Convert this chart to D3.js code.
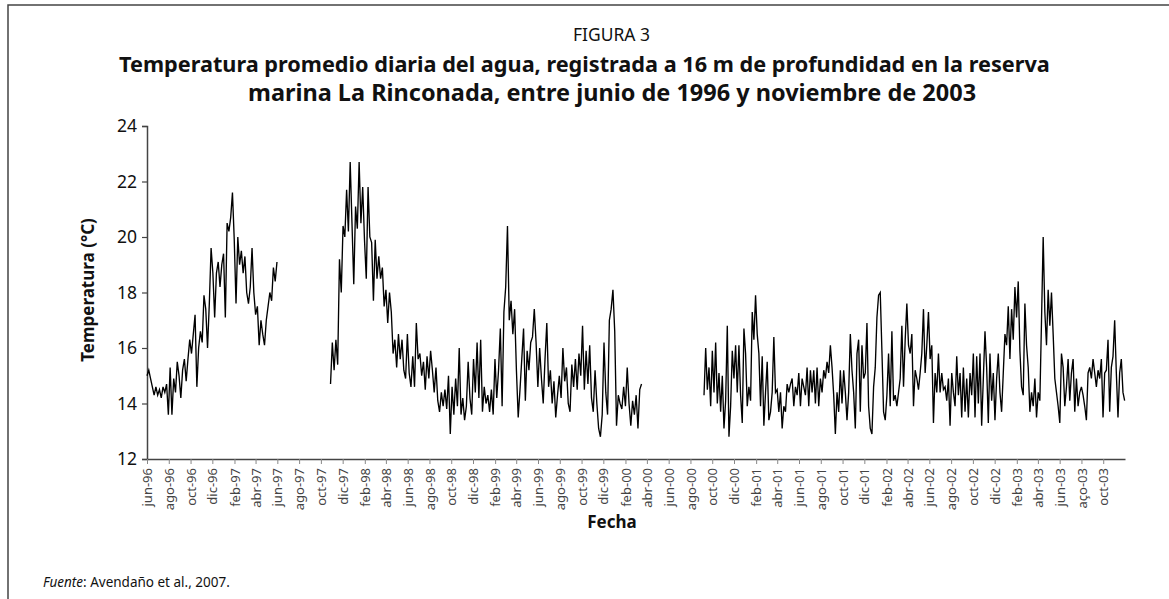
<!DOCTYPE html>
<html><head><meta charset="utf-8">
<script src="https://cdn.jsdelivr.net/npm/d3@7"></script>
<style>body{margin:0;background:#fff}svg{display:block}</style>
</head><body>
<svg id="c" width="1169" height="599"></svg>
<script>
// ---- data ----
const yTicks = [12, 14, 16, 18, 20, 22, 24];
const tickLabels = ["jun-96","ago-96","oct-96","dic-96","feb-97","abr-97","jun-97","ago-97","oct-97","dic-97",
 "feb-98","abr-98","jun-98","ago-98","oct-98","dic-98","feb-99","abr-99","jun-99","ago-99","oct-99","dic-99",
 "feb-00","abr-00","jun-00","ago-00","oct-00","dic-00","feb-01","abr-01","jun-01","ago-01","oct-01","dic-01",
 "feb-02","abr-02","jun-02","ago-02","oct-02","dic-02","feb-03","abr-03","jun-03","aço-03","oct-03"];

// segment periods (start, end)
const segPeriods = [["1996-06-01","1997-05-31"],["1997-10-28","2000-03-17"],["2000-09-08","2003-11-30"]];

const seg1 = [15.0,15.2,14.9,14.6,14.3,14.6,14.3,14.5,14.2,14.6,14.4,14.7,13.6,15.3,13.6,14.9,14.4,15.5,15.0,14.2,
 15.2,15.6,14.8,15.6,16.3,15.8,16.5,17.2,14.6,16.0,16.6,16.2,17.9,17.4,16.0,17.6,19.6,18.7,17.1,18.7,
 19.1,18.2,19.0,19.4,17.1,20.5,20.2,20.7,21.6,19.9,17.6,20.0,19.0,19.5,18.7,19.3,18.0,17.6,18.2,19.6,
 18.0,17.2,17.5,16.1,17.0,16.5,16.1,17.0,17.5,18.0,17.7,18.9,18.4,19.1];

const seg2 = [14.7,16.2,15.2,16.3,15.4,19.2,18.0,20.4,20.0,21.7,20.2,22.7,20.5,18.3,21.1,20.3,22.7,20.5,21.8,19.9,
 18.5,21.8,20.0,19.8,17.7,19.9,18.5,19.3,18.5,18.9,17.5,18.1,16.9,18.0,17.3,15.8,16.3,15.3,16.5,15.6,
 16.3,15.2,14.9,16.5,15.1,14.6,15.7,14.6,16.9,15.6,15.8,15.0,15.5,14.5,15.7,14.9,15.9,15.2,14.4,15.3,14.1,
 13.7,14.4,13.9,14.5,13.8,15.0,12.9,14.6,13.6,14.9,13.9,16.0,13.6,14.2,13.4,13.9,15.5,14.2,13.6,15.6,
 14.4,16.2,14.2,16.3,13.7,14.6,14.0,14.3,13.7,14.5,13.6,15.6,14.2,15.2,16.7,13.9,17.3,18.2,20.4,17.0,
 17.7,16.5,17.4,15.2,13.5,14.5,15.6,16.7,14.1,15.9,15.2,16.2,16.4,17.4,16.2,14.6,16.0,14.9,14.0,15.6,
 16.9,14.6,15.2,14.0,14.8,13.5,14.3,15.0,14.2,16.0,14.8,15.3,14.0,13.7,15.4,14.6,15.6,14.5,15.8,15.0,
 16.8,14.5,15.9,14.7,16.1,14.2,13.7,15.2,14.0,13.1,12.8,13.6,16.2,14.4,13.6,17.0,17.4,18.1,16.6,13.2,
 14.3,14.0,13.8,14.6,13.9,15.3,14.0,13.2,14.1,13.6,14.3,13.1,14.5,14.7];

const seg3 = [14.3,16.0,14.5,15.3,13.9,15.9,14.4,16.2,14.0,15.1,13.7,15.0,13.1,14.1,16.8,12.8,13.9,15.9,14.9,16.1,
 14.4,16.1,14.3,13.3,16.7,15.8,13.9,14.6,14.1,17.3,16.3,17.9,16.5,15.8,13.9,15.7,13.2,14.4,15.5,13.4,
 13.7,14.4,16.4,14.4,14.5,13.7,14.4,13.1,13.9,13.7,14.7,14.4,14.7,14.9,13.9,14.6,14.3,15.1,13.9,14.9,
 14.6,14.3,15.3,13.9,15.2,14.4,15.2,14.0,15.3,13.9,14.9,14.4,15.2,14.9,15.5,15.1,16.1,15.3,14.3,12.9,
 14.4,13.7,15.2,14.0,15.2,14.4,13.4,14.4,16.5,15.2,14.4,13.1,15.8,16.3,13.7,16.1,14.9,15.1,16.9,13.9,
 13.1,12.9,14.6,15.3,17.1,17.9,18.0,15.9,13.7,13.4,14.3,15.8,13.9,16.6,14.1,14.3,13.9,14.4,14.9,16.8,
 14.6,16.3,17.6,16.1,15.8,16.5,13.9,15.2,14.9,14.5,15.1,15.8,17.4,15.1,16.1,17.3,15.6,16.1,13.3,15.1,
 14.4,15.8,14.4,15.1,14.5,14.6,14.1,14.9,13.2,15.1,14.4,13.9,15.7,14.3,15.1,13.5,15.3,13.7,14.9,13.5,
 15.1,14.3,15.8,13.5,15.7,14.0,15.8,13.2,14.9,16.6,15.3,13.3,15.8,14.1,15.1,13.4,14.9,15.8,14.4,13.7,
 15.1,16.5,16.1,17.5,15.6,17.4,16.3,18.2,17.1,18.4,15.9,14.6,14.3,17.6,16.1,15.3,13.7,14.4,13.9,14.9,
 13.5,14.4,14.1,17.0,20.0,17.3,16.1,18.1,16.8,18.0,16.5,14.9,14.4,13.9,13.3,15.8,15.3,13.9,14.6,15.6,
 14.1,15.1,15.6,13.7,14.9,13.9,14.4,14.6,14.3,13.9,13.4,15.1,15.3,14.9,15.6,15.1,14.6,15.2,14.9,15.6,
 13.5,15.1,15.2,16.3,13.7,15.3,15.7,17.0,15.1,13.5,15.1,15.6,14.4,14.1];

const segments = [seg1, seg2, seg3];

// ---- layout ----
const svg = d3.select("#c");
const font = "'Noto Sans', 'Open Sans', sans-serif";
const x = d3.scaleUtc().domain([new Date(Date.UTC(1996,5,1)), new Date(Date.UTC(2003,11,1))]).range([147, 1125]);
const y = d3.scaleLinear().domain([12, 24]).range([459, 126]);

// frame
svg.append("path").attr("d","M8,599 V5 H1169").attr("fill","none").attr("stroke","#444").attr("stroke-width",1.5);

function fitText(sel, targetW){
  const w = sel.node().getComputedTextLength();
  const fs = parseFloat(sel.attr("font-size"));
  sel.attr("font-size", (fs*targetW/w).toFixed(2));
}
const t0 = svg.append("text").attr("x",573).attr("y",41).attr("font-family",font).attr("font-size",19).attr("fill","#111").text("FIGURA 3");
fitText(t0, 77);
const t1 = svg.append("text").attr("x",119).attr("y",72).attr("font-family",font).attr("font-weight","bold").attr("font-size",20).attr("fill","#111")
 .text("Temperatura promedio diaria del agua, registrada a 16 m de profundidad en la reserva");
fitText(t1, 931);
const t2 = svg.append("text").attr("x",248).attr("y",101).attr("font-family",font).attr("font-weight","bold").attr("font-size",20).attr("fill","#111")
 .text("marina La Rinconada, entre junio de 1996 y noviembre de 2003");
fitText(t2, 728);

// y axis
const yAxis = svg.append("g").attr("transform","translate(147,0)")
 .call(d3.axisLeft(y).tickValues(yTicks).tickSize(5).tickPadding(5));
yAxis.select(".domain").attr("stroke","#444").attr("stroke-width",1.5);
yAxis.selectAll(".tick line").attr("stroke","#444").attr("stroke-width",1.2);
yAxis.selectAll("text").attr("font-family",font).attr("font-size",17.5).attr("fill","#111");

// x axis
const tickDates = d3.utcMonth.range(new Date(Date.UTC(1996,5,1)), new Date(Date.UTC(2003,11,1)), 2);
const xAxis = svg.append("g").attr("transform","translate(0,459)")
 .call(d3.axisBottom(x).tickValues(tickDates).tickFormat((d,i)=>tickLabels[i]).tickSize(5).tickSizeOuter(0));
xAxis.select(".domain").attr("stroke","#444").attr("stroke-width",1.5);
xAxis.selectAll(".tick line").attr("stroke","#888").attr("stroke-width",1);
xAxis.selectAll("text").attr("font-family",font).attr("font-size",13).attr("fill","#444")
 .attr("transform","rotate(-90)").attr("text-anchor","end").attr("x",-9).attr("y",0).attr("dy","0.35em");

// axis titles
svg.append("text").attr("transform","translate(94,290) rotate(-90)").attr("text-anchor","middle")
 .attr("font-family",font).attr("font-weight","bold").attr("font-size",17).attr("fill","#111").text("Temperatura (°C)");
svg.append("text").attr("x",612).attr("y",528).attr("text-anchor","middle")
 .attr("font-family",font).attr("font-weight","bold").attr("font-size",17).attr("fill","#111").text("Fecha");

// source
const src = svg.append("text").attr("x",43).attr("y",587).attr("font-family",font).attr("font-size",13.5).attr("fill","#111");
src.append("tspan").attr("font-style","italic").text("Fuente");
src.append("tspan").text(": Avendaño et al., 2007.");

// lines
const line = d3.line().x(d=>x(d.t)).y(d=>y(d.v));
segments.forEach((vals, k) => {
  const s = new Date(segPeriods[k][0]+"T00:00:00Z").getTime();
  const e = new Date(segPeriods[k][1]+"T00:00:00Z").getTime();
  const pts = vals.map((v,i)=>({t:new Date(s + (e-s)*i/(vals.length-1)), v}));
  svg.append("path").datum(pts).attr("d", line).attr("fill","none").attr("stroke","#000").attr("stroke-width",1.35).attr("stroke-linejoin","miter");
});
</script>
</body></html>
